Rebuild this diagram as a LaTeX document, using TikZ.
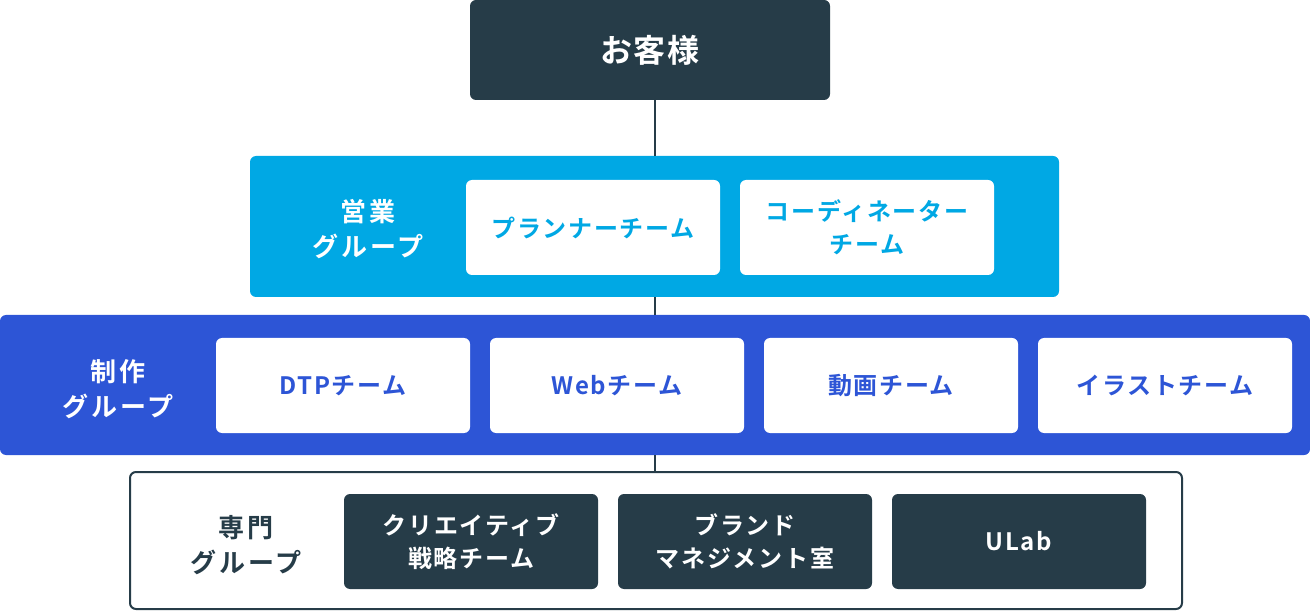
\documentclass[tikz,border=0pt]{standalone}
\usepackage{fontspec}
\setmainfont{Noto Sans CJK JP Bold}
\usepackage{tikz}
\definecolor{inkD}{HTML}{263C48}
\definecolor{salesC}{HTML}{00A8E4}
\definecolor{prodB}{HTML}{2D55D6}

\begin{document}
\begin{tikzpicture}[x=1pt, y=-1pt,
  grp/.style={rounded corners=6pt, inner sep=0pt},
  team/.style={rounded corners=6pt, inner sep=0pt, minimum width=254pt,
    minimum height=95pt, align=center,
    font=\fontsize{24}{33}\selectfont\addfontfeatures{LetterSpace=7}},
  glab/.style={align=center,
    font=\fontsize{26}{35}\selectfont\addfontfeatures{LetterSpace=10}}]
  \path[use as bounding box] (0,0) rectangle (1310,612);

  % group frames
  \node[grp, fill=inkD, minimum width=360pt, minimum height=100pt,
    text=white, font=\fontsize{32}{36}\selectfont\addfontfeatures{LetterSpace=6}]
    (cust) at (650,50) {お客様};
  \node[grp, fill=salesC, minimum width=809pt, minimum height=141pt]
    (sales) at (654.5,226.5) {};
  \node[grp, fill=prodB, minimum width=1310pt, minimum height=140pt]
    (prod) at (655,385) {};
  \node[grp, draw=inkD, line width=2pt, fill=white, minimum width=1052pt,
    minimum height=137pt] (spec) at (656,540.5) {};

  % connectors
  \draw[inkD, line width=2pt] (sales.north |- cust.south) -- (sales.north);
  \draw[inkD, line width=2pt] (sales.south) -- (sales.south |- prod.north);
  \draw[inkD, line width=2pt] (prod.south -| sales.south) -- (spec.north -| sales.south);

  % group labels
  \node[glab, text=white] (salesL) at (368,229) {営業\\グループ};
  \node[glab, text=white] (prodL) at (118,389) {制作\\グループ};
  \node[glab, text=inkD] (specL) at (246,545) {専門\\グループ};

  % teams
  \foreach \nm/\cx/\txt in {plan/593/{プランナーチーム},
      coord/867/{コーディネーター\\チーム}}{
    \node[team, fill=white, text=salesC] (\nm) at (\cx,227.5) {\txt};
  }
  \foreach \nm/\cx/\txt in {dtp/343/{DTPチーム}, web/617/{Webチーム},
      movie/891/{動画チーム}, illu/1165/{イラストチーム}}{
    \node[team, fill=white, text=prodB] (\nm) at (\cx,385.5) {\txt};
  }
  \foreach \nm/\cx/\txt in {creat/471/{クリエイティブ\\戦略チーム},
      brand/745/{ブランド\\マネジメント室}, ulab/1019/{ULab}}{
    \node[team, fill=inkD, text=white] (\nm) at (\cx,541.5) {\txt};
  }
\end{tikzpicture}
\end{document}
